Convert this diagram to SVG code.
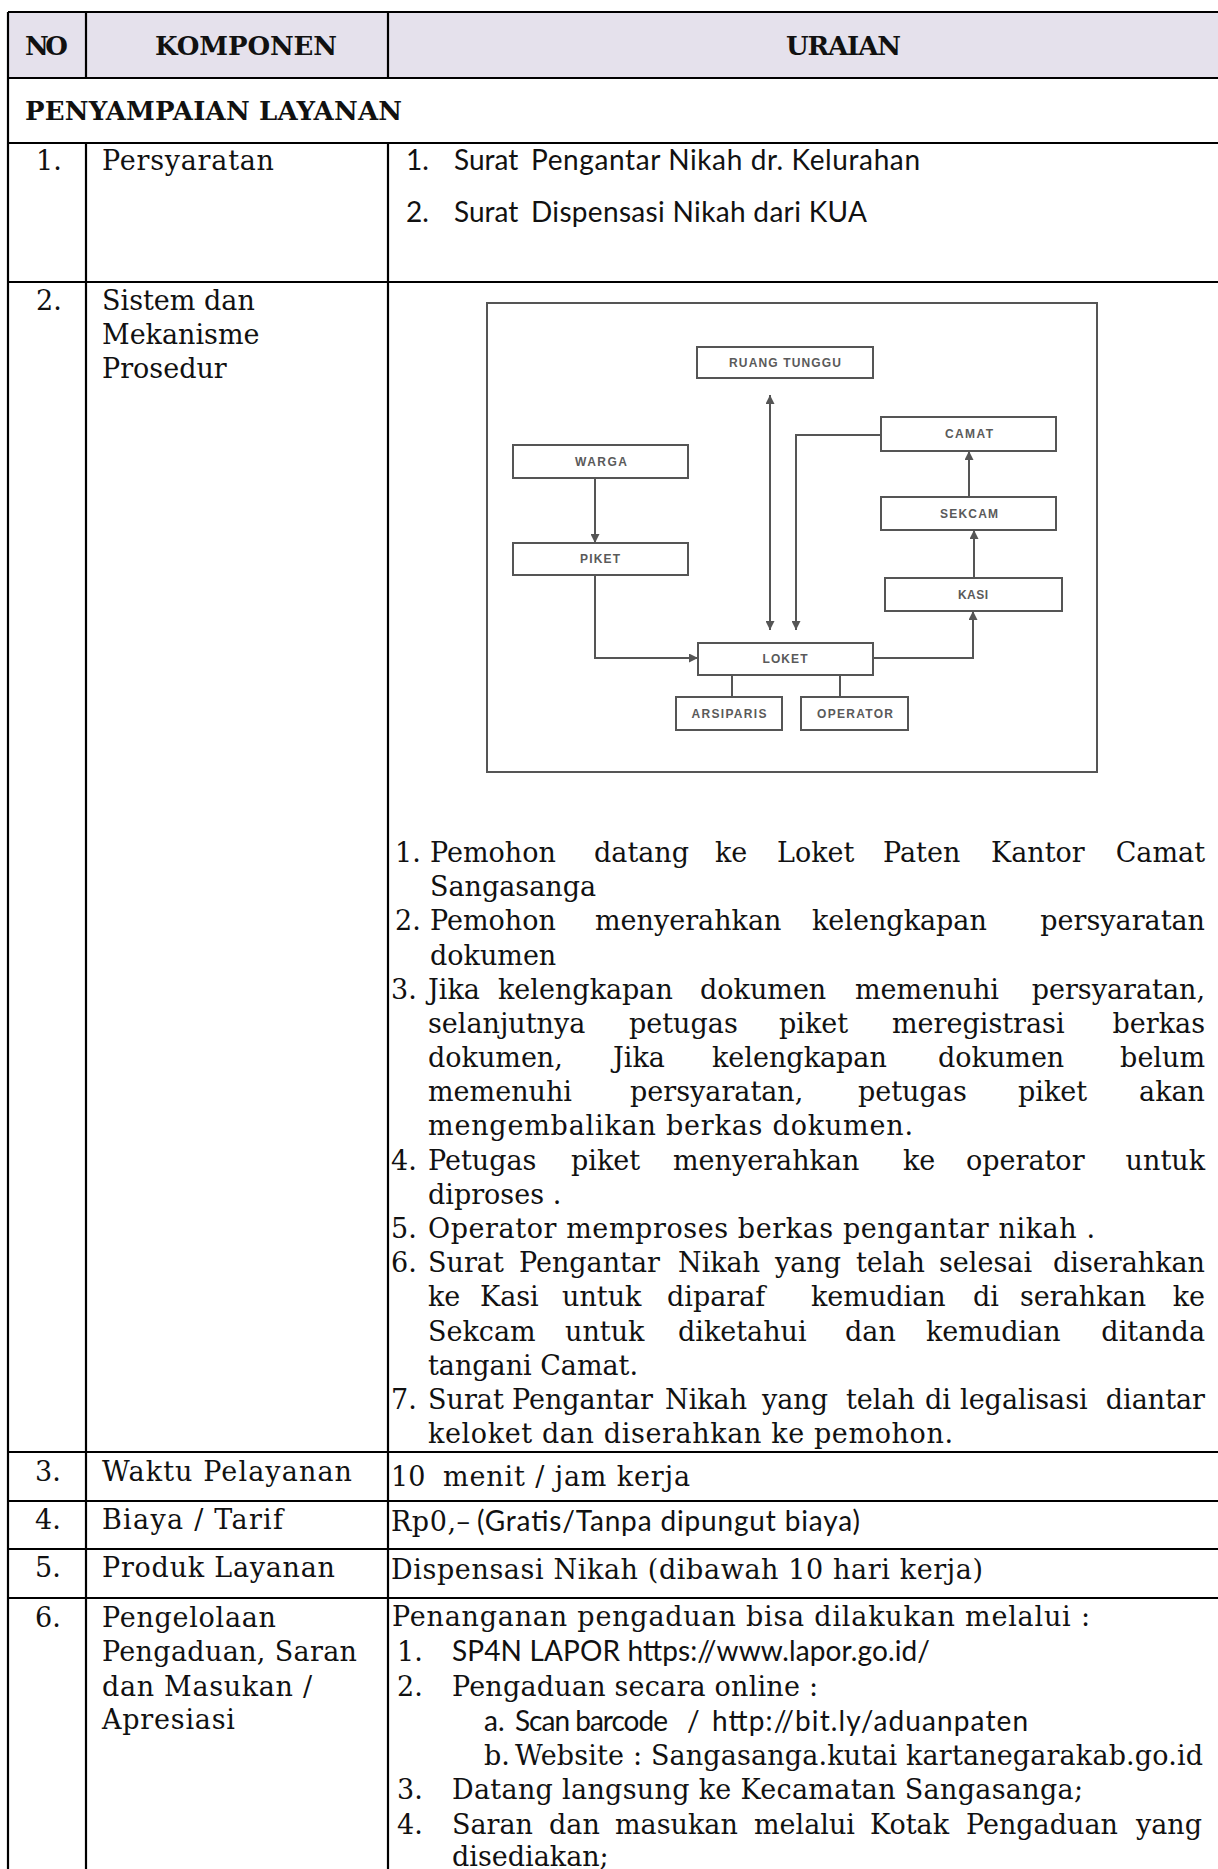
<svg xmlns="http://www.w3.org/2000/svg" width="1218" height="1869" viewBox="0 0 1218 1869">
<defs>
<style>
.cam{font-family:"DejaVu Serif","Liberation Serif",serif;font-size:27px;fill:#111}
.cal{font-family:Lato,"Liberation Sans",sans-serif;font-size:28px;fill:#111}
.hd{font-family:"DejaVu Serif","Liberation Serif",serif;font-weight:bold;font-size:26px;fill:#111}
.ln{stroke:#000;stroke-width:2.2;fill:none}
.nd rect{fill:#fff;stroke:#555;stroke-width:2}
.nd text{font-family:"Liberation Sans",Arial,sans-serif;font-weight:bold;font-size:12px;fill:#5a5a5a;text-anchor:middle}
.cn{fill:none;stroke:#555;stroke-width:2}
.end{text-anchor:end}
</style>
<marker id="ah" viewBox="0 0 10 10" refX="10" refY="5" markerWidth="9" markerHeight="9" markerUnits="userSpaceOnUse" orient="auto-start-reverse">
<path d="M0,0 L10,5 L0,10 z" fill="#555"/>
</marker>
</defs>
<rect width="1218" height="1869" fill="#fff"/>

<g id="table">
<rect x="8" y="12" width="1212" height="66" fill="#e5e1ec"/>
<path class="ln" d="M8,12 H1218 M8,78 H1218 M8,143 H1218 M8,282 H1218 M8,1452 H1218 M8,1501 H1218 M8,1549 H1218 M8,1598 H1218"/>
<path class="ln" d="M8,12 V1869 M86,12 V78 M388,12 V78 M86,143 V1869 M388,143 V1869"/>
</g>

<g id="header">
<text class="hd" x="25" y="55" textLength="43">NO</text>
<text class="hd" x="155" y="55" textLength="182">KOMPONEN</text>
<text class="hd" x="786" y="55" textLength="115">URAIAN</text>
<text class="hd" x="25" y="120" font-size="25" textLength="377">PENYAMPAIAN LAYANAN</text>
</g>

<g id="row1">
<text class="cam" x="36" y="170">1.</text>
<text class="cam" x="102" y="170" textLength="172">Persyaratan</text>
<text class="cal" x="406" y="170">1.</text>
<text class="cal" x="454" y="170">Surat</text>
<text class="cal" x="531" y="170" textLength="389">Pengantar Nikah dr. Kelurahan</text>
<text class="cal" x="406" y="222">2.</text>
<text class="cal" x="454" y="222">Surat</text>
<text class="cal" x="531" y="222" textLength="336">Dispensasi Nikah dari KUA</text>
</g>

<g id="row2">
<text class="cam" x="36" y="310">2.</text>
<text class="cam" x="102" y="310">Sistem dan</text>
<text class="cam" x="102" y="344">Mekanisme</text>
<text class="cam" x="102" y="378">Prosedur</text>
</g>

<g id="diagram">
<rect x="487" y="303" width="610" height="469" fill="#fff" stroke="#555" stroke-width="2"/>
<g id="n-ruang" class="nd"><rect x="697" y="347" width="176" height="31"/><text x="785" y="367" textLength="112">RUANG TUNGGU</text></g>
<g id="n-warga" class="nd"><rect x="513" y="445" width="175" height="33"/><text x="601" y="466" textLength="52">WARGA</text></g>
<g id="n-piket" class="nd"><rect x="513" y="543" width="175" height="32"/><text x="600" y="563" textLength="40">PIKET</text></g>
<g id="n-loket" class="nd"><rect x="698" y="643" width="175" height="32"/><text x="785" y="663" textLength="45">LOKET</text></g>
<g id="n-arsiparis" class="nd"><rect x="676" y="697" width="106" height="33"/><text x="729" y="718" textLength="75">ARSIPARIS</text></g>
<g id="n-operator" class="nd"><rect x="801" y="697" width="107" height="33"/><text x="855" y="718" textLength="76">OPERATOR</text></g>
<g id="n-camat" class="nd"><rect x="881" y="417" width="175" height="34"/><text x="969" y="438" textLength="48">CAMAT</text></g>
<g id="n-sekcam" class="nd"><rect x="881" y="497" width="175" height="33"/><text x="969" y="518" textLength="58">SEKCAM</text></g>
<g id="n-kasi" class="nd"><rect x="885" y="578" width="177" height="33"/><text x="973" y="599" textLength="30">KASI</text></g>
<g id="connectors">
<path class="cn" d="M595,478 V543" marker-end="url(#ah)"/>
<path class="cn" d="M595,575 V658 H698" marker-end="url(#ah)"/>
<path class="cn" d="M770,395 V630" marker-start="url(#ah)" marker-end="url(#ah)"/>
<path class="cn" d="M881,435 H796 V630" marker-end="url(#ah)"/>
<path class="cn" d="M873,658 H973 V611" marker-end="url(#ah)"/>
<path class="cn" d="M974,578 V530" marker-end="url(#ah)"/>
<path class="cn" d="M969,497 V451" marker-end="url(#ah)"/>
<path class="cn" d="M732,675 V697"/>
<path class="cn" d="M840,675 V697"/>
</g>
</g>

<g id="steps" class="cam">
<text x="395" y="862">1.</text>
<text y="862"><tspan x="430">Pemohon</tspan><tspan x="594">datang</tspan><tspan x="715">ke</tspan><tspan x="777">Loket</tspan><tspan x="883">Paten</tspan><tspan x="991">Kantor</tspan></text>
<text class="end" x="1205" y="862">Camat</text>
<text x="430" y="896">Sangasanga</text>
<text x="395" y="930">2.</text>
<text y="930"><tspan x="430">Pemohon</tspan><tspan x="595">menyerahkan</tspan><tspan x="812">kelengkapan</tspan></text>
<text class="end" x="1205" y="930">persyaratan</text>
<text x="430" y="965">dokumen</text>
<text x="391" y="999">3.</text>
<text y="999"><tspan x="428">Jika</tspan><tspan x="498">kelengkapan</tspan><tspan x="700">dokumen</tspan><tspan x="855">memenuhi</tspan></text>
<text class="end" x="1205" y="999">persyaratan,</text>
<text y="1033"><tspan x="428">selanjutnya</tspan><tspan x="629">petugas</tspan><tspan x="779">piket</tspan><tspan x="892">meregistrasi</tspan></text>
<text class="end" x="1205" y="1033">berkas</text>
<text y="1067"><tspan x="428">dokumen,</tspan><tspan x="613">Jika</tspan><tspan x="712">kelengkapan</tspan><tspan x="938">dokumen</tspan></text>
<text class="end" x="1205" y="1067">belum</text>
<text y="1101"><tspan x="428">memenuhi</tspan><tspan x="630">persyaratan,</tspan><tspan x="858">petugas</tspan><tspan x="1018">piket</tspan></text>
<text class="end" x="1205" y="1101">akan</text>
<text x="428" y="1135" textLength="485">mengembalikan berkas dokumen.</text>
<text x="391" y="1170">4.</text>
<text y="1170"><tspan x="428">Petugas</tspan><tspan x="571">piket</tspan><tspan x="673">menyerahkan</tspan><tspan x="903">ke</tspan><tspan x="966">operator</tspan></text>
<text class="end" x="1205" y="1170">untuk</text>
<text x="428" y="1204">diproses .</text>
<text x="391" y="1238">5.</text>
<text x="428" y="1238" textLength="667">Operator memproses berkas pengantar nikah .</text>
<text x="391" y="1272">6.</text>
<text y="1272"><tspan x="428">Surat</tspan><tspan x="519">Pengantar</tspan><tspan x="678">Nikah</tspan><tspan x="775">yang</tspan><tspan x="856">telah</tspan><tspan x="939">selesai</tspan></text>
<text class="end" x="1205" y="1272">diserahkan</text>
<text y="1306"><tspan x="428">ke</tspan><tspan x="480">Kasi</tspan><tspan x="562">untuk</tspan><tspan x="667">diparaf</tspan><tspan x="811">kemudian</tspan><tspan x="973">di</tspan><tspan x="1020">serahkan</tspan></text>
<text class="end" x="1205" y="1306">ke</text>
<text y="1341"><tspan x="428">Sekcam</tspan><tspan x="565">untuk</tspan><tspan x="678">diketahui</tspan><tspan x="845">dan</tspan><tspan x="926">kemudian</tspan></text>
<text class="end" x="1205" y="1341">ditanda</text>
<text x="428" y="1375" textLength="210">tangani Camat.</text>
<text x="391" y="1409">7.</text>
<text y="1409"><tspan x="428">Surat</tspan><tspan x="512">Pengantar</tspan><tspan x="665">Nikah</tspan><tspan x="762">yang</tspan><tspan x="846">telah</tspan><tspan x="925">di</tspan><tspan x="960">legalisasi</tspan></text>
<text class="end" x="1205" y="1409">diantar</text>
<text x="428" y="1443" textLength="525">keloket dan diserahkan ke pemohon.</text>
</g>

<g id="row3">
<text class="cam" x="35" y="1481">3.</text>
<text class="cam" x="102" y="1481" textLength="250">Waktu Pelayanan</text>
<text class="cam" x="391" y="1486">10</text>
<text class="cam" x="443" y="1486" textLength="247">menit / jam kerja</text>
</g>

<g id="row4">
<text class="cam" x="35" y="1529">4.</text>
<text class="cam" x="102" y="1529" textLength="181">Biaya / Tarif</text>
<text class="cam" x="391" y="1531" textLength="79">Rp0,–</text>
<text class="cal" x="477" y="1531" textLength="383">(Gratis/Tanpa dipungut biaya)</text>
</g>

<g id="row5">
<text class="cam" x="35" y="1577">5.</text>
<text class="cam" x="102" y="1577" textLength="233">Produk Layanan</text>
<text class="cam" x="391" y="1579" textLength="592">Dispensasi Nikah (dibawah 10 hari kerja)</text>
</g>

<g id="row6">
<text class="cam" x="35" y="1627">6.</text>
<text class="cam" x="102" y="1627" textLength="174">Pengelolaan</text>
<text class="cam" x="102" y="1661" textLength="255">Pengaduan, Saran</text>
<text class="cam" x="102" y="1696" textLength="210">dan Masukan /</text>
<text class="cam" x="102" y="1729" textLength="133">Apresiasi</text>
<text class="cam" x="392" y="1626" textLength="698">Penanganan pengaduan bisa dilakukan melalui :</text>
<text class="cam" x="397" y="1661">1.</text>
<text class="cal" x="452" y="1661" textLength="478">SP4N LAPOR https://www.lapor.go.id/</text>
<text class="cam" x="397" y="1696">2.</text>
<text class="cam" x="452" y="1696" textLength="366">Pengaduan secara online :</text>
<text class="cal" x="484" y="1731">a.</text>
<text class="cal" x="515" y="1731" textLength="153">Scan barcode</text>
<text class="cal" x="687" y="1731">/</text>
<text class="cal" x="712" y="1731" textLength="316">http://bit.ly/aduanpaten</text>
<text class="cam" x="484" y="1765">b.</text>
<text class="cam" x="515" y="1765" textLength="688">Website : Sangasanga.kutai kartanegarakab.go.id</text>
<text class="cam" x="397" y="1799">3.</text>
<text class="cam" x="452" y="1799" textLength="631">Datang langsung ke Kecamatan Sangasanga;</text>
<text class="cam" x="397" y="1834">4.</text>
<text class="cam" y="1834"><tspan x="452">Saran</tspan><tspan x="549">dan</tspan><tspan x="615">masukan</tspan><tspan x="754">melalui</tspan><tspan x="870">Kotak</tspan><tspan x="966">Pengaduan</tspan></text>
<text class="cam end" x="1202" y="1834">yang</text>
<text class="cam" x="452" y="1866">disediakan;</text>
</g>
</svg>
